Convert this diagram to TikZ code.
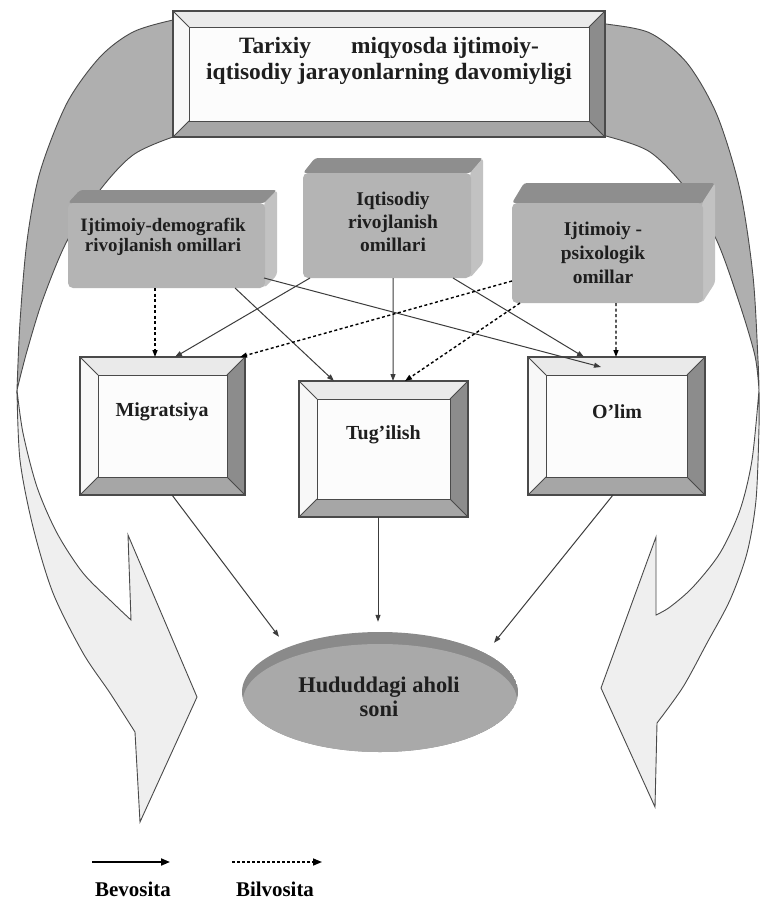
\documentclass[tikz,border=0pt]{standalone}
\usepackage{fontspec}
\setmainfont{Liberation Serif}
\usetikzlibrary{arrows.meta,calc,shapes.geometric}
\definecolor{archup}{HTML}{AFAFAF}
\definecolor{archlow}{HTML}{EFEFEF}
\definecolor{edgec}{HTML}{4A4A4A}
\definecolor{bvtop}{HTML}{EAEAEA}
\definecolor{bvleft}{HTML}{F8F8F8}
\definecolor{bvright}{HTML}{8C8C8C}
\definecolor{bvbottom}{HTML}{A6A6A6}
\definecolor{facec}{HTML}{FCFCFC}
\definecolor{gfront}{HTML}{B4B4B4}
\definecolor{gtop}{HTML}{8E8E8E}
\definecolor{gside}{HTML}{C2C2C2}
\definecolor{ellbody}{HTML}{A9A9A9}
\definecolor{elltop}{HTML}{8A8A8A}
\definecolor{txtc}{HTML}{1E1E1E}
\definecolor{linec}{HTML}{3C3C3C}

% bevelled frame: x1 y1 x2 y2 b
\newcommand{\bevframe}[5]{%
  \fill[bvtop] ({#1},{#2}) -- ({#3},{#2}) -- ({#3-#5},{#2+#5}) -- ({#1+#5},{#2+#5}) -- cycle;
  \fill[bvleft] ({#1},{#2}) -- ({#1+#5},{#2+#5}) -- ({#1+#5},{#4-#5}) -- ({#1},{#4}) -- cycle;
  \fill[bvright] ({#3},{#2}) -- ({#3},{#4}) -- ({#3-#5},{#4-#5}) -- ({#3-#5},{#2+#5}) -- cycle;
  \fill[bvbottom] ({#1},{#4}) -- ({#3},{#4}) -- ({#3-#5},{#4-#5}) -- ({#1+#5},{#4-#5}) -- cycle;
  \fill[facec] ({#1+#5},{#2+#5}) rectangle ({#3-#5},{#4-#5});
  \draw[edgec, line width=1.1bp] ({#1},{#2}) rectangle ({#3},{#4});
  \draw[edgec, line width=0.9bp] ({#1+#5},{#2+#5}) rectangle ({#3-#5},{#4-#5});
  \draw[edgec, line width=0.8bp] ({#1},{#2}) -- ({#1+#5},{#2+#5})
     ({#3},{#2}) -- ({#3-#5},{#2+#5}) ({#3},{#4}) -- ({#3-#5},{#4-#5})
     ({#1},{#4}) -- ({#1+#5},{#4-#5});
}
% grey 3D block: x1 y1 x2 y2 dx dy
\newcommand{\greyblock}[6]{%
  \fill[gtop, rounded corners=3bp] ({#1},{#2+#6}) -- ({#1+#5},{#2}) -- ({#3},{#2}) -- ({#3-#5},{#2+#6}) -- cycle;
  \fill[gside, rounded corners=3bp] ({#3-#5-1},{#2+#6}) -- ({#3},{#2}) -- ({#3},{#4-#6}) -- ({#3-#5-1},{#4}) -- cycle;
  \fill[gfront, rounded corners=5bp] ({#1},{#2+#6}) rectangle ({#3-#5},{#4});
}

\begin{document}
\begin{tikzpicture}[x=1bp,y=-1bp,
  holder/.style={draw=none, rectangle, inner sep=0pt, outer sep=0pt},
  lbl/.style={text=txtc, align=center, inner sep=0pt},
  conn/.style={draw=linec, line width=1bp, -{Triangle[length=7bp,width=5bp]}},
  dconn/.style={draw=black, line width=1.4bp, dash pattern=on 3bp off 2.5bp, -{Triangle[length=7bp,width=5bp]}},
  legsolid/.style={draw=black, line width=1.8bp, -{Triangle[length=9bp,width=7bp]}},
  legdash/.style={draw=black, line width=1.5bp, dash pattern=on 2.5bp off 2.5bp, -{Triangle[length=9bp,width=7bp]}},
  archu/.style={fill=archup, draw=edgec, line width=0.9bp},
  archl/.style={fill=archlow, draw=edgec, line width=0.9bp}]
\useasboundingbox (0,0) rectangle (760,900);
\fill[white] (0,0) rectangle (760,900);

% ---- big twisted arrows ----
\filldraw[archu] plot[smooth] coordinates {(186,20) (173,20) (133,32) (100,57) (67,103) (40,172) (27,241) (20,322) (17,390)}
  -- plot[smooth] coordinates {(17,390) (27,351) (43,299) (67,241) (100,190) (133,155) (173,137) (186,137)} -- cycle;
\filldraw[archl] plot[smooth] coordinates {(17,390) (20,460) (33,527) (53,593) (83,653) (110,693) (135,732)}
  -- (140,822) -- (197,697) -- (128,535) -- (131,620)
  -- plot[smooth] coordinates {(131,620) (113,603) (83,573) (57,533) (37,487) (23,433) (17,390)} -- cycle;
\filldraw[archu] plot[smooth] coordinates {(594,24) (606,24) (650,33) (687,63) (717,115) (740,190) (753,276) (758,360) (759,390)}
  -- plot[smooth] coordinates {(759,390) (755,356) (740,305) (717,241) (687,190) (650,152) (606,136) (594,136)} -- cycle;
\filldraw[archl] plot[smooth] coordinates {(759,390) (759,427) (756,500) (747,553) (730,600) (707,643) (683,687) (657,723)}
  -- (655,807) -- (601,688) -- (656,537) -- (656,615)
  -- plot[smooth] coordinates {(656,615) (670,607) (693,587) (720,553) (740,510) (752,460) (759,390)} -- cycle;

% ---- top frame ----
\bevframe{173}{11}{605}{137}{16}
\node[holder, minimum width=432bp, minimum height=126bp] (top) at (389,74) {};
\node[lbl, font={\fontsize{23.5}{27}\selectfont\bfseries}] (toptxt) at (389,61)
  {Tarixiy\hspace*{40bp}miqyosda ijtimoiy-\\iqtisodiy jarayonlarning davomiyligi};

% ---- grey factor blocks ----
\greyblock{68}{190}{277}{288}{12}{13}
\greyblock{303}{158}{483}{278}{12}{15}
\greyblock{512}{183}{715}{303}{12}{20}
\node[holder, minimum width=209bp, minimum height=98bp] (lbox) at (172.5,239) {};
\node[holder, minimum width=180bp, minimum height=120bp] (mbox) at (393,218) {};
\node[holder, minimum width=203bp, minimum height=120bp] (rbox) at (613.5,243) {};
\node[lbl, font={\fontsize{19}{20.5}\selectfont\bfseries}] (ltxt) at (163,237) {Ijtimoiy-demografik\\rivojlanish omillari};
\node[lbl, font={\fontsize{19.5}{23}\selectfont\bfseries}] (mtxt) at (393,222) {Iqtisodiy\\rivojlanish\\omillari};
\node[lbl, font={\fontsize{19.5}{24}\selectfont\bfseries}] (rtxt) at (603,253) {Ijtimoiy -\\psixologik\\omillar};

% ---- process frames ----
\bevframe{80}{357}{245}{495}{18}
\bevframe{299}{381}{468}{517}{18}
\bevframe{528}{357}{705}{495}{18}
\node[holder, minimum width=165bp, minimum height=138bp] (mig) at (162.5,426) {};
\node[holder, minimum width=169bp, minimum height=136bp] (tug) at (383.5,449) {};
\node[holder, minimum width=177bp, minimum height=138bp] (olim) at (616.5,426) {};
\node[lbl, font={\fontsize{20}{24}\selectfont\bfseries}] (migtxt) at (162,412) {Migratsiya};
\node[lbl, font={\fontsize{20}{24}\selectfont\bfseries}] (tugtxt) at (383.5,435) {Tug’ilish};
\node[lbl, font={\fontsize{20}{24}\selectfont\bfseries}] (olimtxt) at (617,412) {O’lim};

% ---- population ellipse ----
\begin{scope}
  \clip (380,692) ellipse [x radius=138, y radius=60];
  \fill[elltop] (380,692) ellipse [x radius=138, y radius=60];
  \fill[ellbody] (380,701) ellipse [x radius=137, y radius=57];
\end{scope}
\node[ellipse, draw=none, inner sep=0pt, minimum width=276bp, minimum height=120bp] (ell) at (380,692) {};
\node[lbl, font={\fontsize{22.5}{24}\selectfont\bfseries}] (elltxt) at (379,697) {Hududdagi aholi\\soni};

% ---- connectors ----
\draw[conn] ($(lbox.south east)+(-13,-10)$) -- ($(olim.north)+(-15.5,10)$);
\draw[conn] ($(lbox.south)+(62.5,0)$) -- ($(tug.north)+(-49.5,0)$);
\draw[conn] ($(mbox.south west)+(7,0)$) -- ($(mig.north)+(12.5,0)$);
\draw[conn] (mbox.south) -- ($(tug.north)+(9.5,0)$);
\draw[conn] ($(mbox.south east)+(-30,0)$) -- ($(olim.north)+(-32.5,0)$);
\draw[dconn] ($(lbox.south)+(-17.5,0)$) -- ($(mig.north)+(-7.5,0)$);
\draw[dconn] ($(rbox.south)+(2.5,0)$) -- ($(olim.north)+(-0.5,0)$);
\draw[dconn] ($(rbox.south west)+(0,-22)$) -- ($(mig.north east)+(-5,0)$);
\draw[dconn] ($(rbox.south west)+(8,0)$) -- ($(tug.north)+(21.5,0)$);
\draw[conn] ($(mig.south)+(9.5,0)$) -- ($(ell.north)+(-101,5)$);
\draw[conn] ($(tug.south)+(-5.5,0)$) -- ($(ell.north)+(-2,-10)$);
\draw[conn] ($(olim.south)+(-3.5,0)$) -- ($(ell.north)+(114,11)$);

% ---- legend ----
\coordinate (lgas) at (92,862);
\coordinate (lgae) at (170,862);
\coordinate (lgbs) at (232,862);
\coordinate (lgbe) at (322,862);
\draw[legsolid] (lgas) -- (lgae);
\draw[legdash] (lgbs) -- (lgbe);
\node[lbl, font={\fontsize{21}{24}\selectfont\bfseries}, text=black] (bev) at (133,889) {Bevosita};
\node[lbl, font={\fontsize{21}{24}\selectfont\bfseries}, text=black] (bil) at (275,889) {Bilvosita};
\end{tikzpicture}
\end{document}
